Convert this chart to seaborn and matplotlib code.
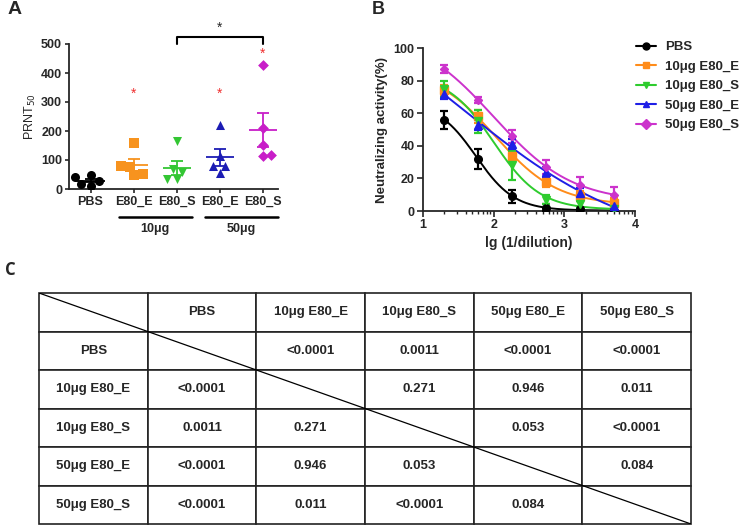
import matplotlib
matplotlib.use("Agg")
import matplotlib.pyplot as plt
import matplotlib.ticker as mticker
from matplotlib.lines import Line2D
import numpy as np
import pandas as pd
import seaborn as sns

sns.set_style("ticks")
plt.rcParams["font.family"] = ["Liberation Sans", "DejaVu Sans"]

# ---- panel A: PRNT50 per mouse ----
groups = ["PBS", "10μg E80_E", "10μg E80_S", "50μg E80_E", "50μg E80_S"]
tick_names = ["PBS", "E80_E", "E80_S", "E80_E", "E80_S"]
prnt_pbs = [12, 18, 28, 40, 48]
prnt_10e = [160, 79, 77, 48, 51]
prnt_10s = [165, 68, 60, 35, 35]
prnt_50e = [220, 115, 80, 78, 55]
prnt_50s = [428, 210, 153, 115, 118]
star_groups = ["10μg E80_E", "50μg E80_E", "50μg E80_S"]
star_values = [330, 330, 465]

colors_a = ["black", "#F7931E", "#33C633", "#1C1CB4", "#C81EC8"]
markers_a = ["o", "s", "v", "^", "D"]

# ---- panel B: neutralization curves ----
lg_dilution = [1.30, 1.78, 2.26, 2.74, 3.22, 3.70]
neut_pbs = [56, 32, 9, 2, 1, 0]
neut_10e = [74, 58, 34, 18, 9, 5]
neut_10s = [75, 55, 28, 7, 4, 1]
neut_50e = [72, 53, 41, 24, 11, 3]
neut_50s = [87, 68, 46, 27, 16, 10]
sem_pbs = [5.5, 6, 4, 2, 1, 0.5]
sem_10e = [3, 4, 3, 3, 3, 3]
sem_10s = [5, 7, 9, 3, 2, 1]
sem_50e = [3, 3, 3, 3, 3, 2]
sem_50s = [2.5, 2, 4, 4, 5, 5]
colors_b = ["black", "#FF8C1A", "#2ECC2E", "#1F1FE6", "#CC33CC"]

# ---- panel C: p-values ----
pvals = [
    ["", "<0.0001", "0.0011", "<0.0001", "<0.0001"],
    ["<0.0001", "", "0.271", "0.946", "0.011"],
    ["0.0011", "0.271", "", "0.053", "<0.0001"],
    ["<0.0001", "0.946", "0.053", "", "0.084"],
    ["<0.0001", "0.011", "<0.0001", "0.084", ""],
]

fig = plt.figure(figsize=(7.4, 5.25), dpi=100)

# ================= A =================
axA = fig.add_axes([69 / 740, 1 - 189 / 525, 209 / 740, 145 / 525])
prnt = [prnt_pbs, prnt_10e, prnt_10s, prnt_50e, prnt_50s]
dfA = pd.DataFrame({
    "group": np.repeat(groups, [len(v) for v in prnt]),
    "prnt": np.concatenate(prnt),
})
for g, c, m in zip(groups, colors_a, markers_a):
    sns.swarmplot(data=dfA[dfA.group == g], x="group", y="prnt", order=groups,
                  color=c, marker=m, size=6.5 if m != "D" else 5.5, ax=axA,
                  linewidth=0)
stats = dfA.groupby("group", sort=False)["prnt"].agg(["mean", "sem"])
for i, g in enumerate(groups):
    mu, se = stats.loc[g, "mean"], stats.loc[g, "sem"]
    axA.hlines(mu, i - 0.33, i + 0.33, color=colors_a[i], lw=1.3, zorder=5)
    axA.errorbar(i, mu, yerr=se, color=colors_a[i], capsize=4, capthick=1.3,
                 elinewidth=1.3, zorder=5)
for g, v in zip(star_groups, star_values):
    axA.text(groups.index(g), v, "*", color="#F03030", ha="center", va="center",
             fontsize=10)
axA.set_xlim(-0.5, 4.35)
axA.set_ylim(0, 500)
axA.set_yticks([0, 100, 200, 300, 400, 500])
axA.set_xticks(range(5))
axA.set_xticklabels(tick_names, fontweight="bold", fontsize=9)
for t in axA.get_yticklabels():
    t.set_fontweight("bold")
    t.set_fontsize(9)
axA.set_xlabel("")
axA.set_ylabel("PRNT$_{50}$", fontsize=9, labelpad=2)
axA.tick_params(length=3, width=1.2, pad=2)
sns.despine(ax=axA)
for s in ["left", "bottom"]:
    axA.spines[s].set_linewidth(1.3)
# significance bracket
axA.plot([2, 2, 4, 4], [500, 524, 524, 500], color="black", lw=1.5, clip_on=False)
axA.text(3, 557, "*", ha="center", va="center", fontsize=10)
# dose group underlines
for (a, b), lab in zip([(1, 2), (3, 4)], ["10μg", "50μg"]):
    axA.plot([a - 0.35, b + 0.35], [-0.19, -0.19], color="black", lw=1.8,
             clip_on=False, transform=axA.get_xaxis_transform())
    axA.text((a + b) / 2, -0.275, lab, ha="center", va="center", fontsize=9,
             fontweight="bold", transform=axA.get_xaxis_transform())

# ================= B =================
axB = fig.add_axes([423 / 740, 1 - 211 / 525, 212 / 740, 163 / 525])
neut = [neut_pbs, neut_10e, neut_10s, neut_50e, neut_50s]
sems = [sem_pbs, sem_10e, sem_10s, sem_50e, sem_50s]
x = np.array(lg_dilution)
xs = np.linspace(x.min(), x.max(), 200)


def fit_4pl(xd, yd):
    best = None
    for ec in np.linspace(0.5, 3.5, 121):
        for h in np.linspace(0.3, 3.0, 91):
            s = 1 / (1 + 10 ** ((xd - ec) * h))
            A = np.column_stack([np.ones_like(s), s])
            coef, *_ = np.linalg.lstsq(A, yd, rcond=None)
            r = np.sum((A @ coef - yd) ** 2)
            if best is None or r < best[0]:
                best = (r, ec, h, coef)
    _, ec, h, coef = best
    return lambda xx: coef[0] + coef[1] / (1 + 10 ** ((xx - ec) * h))


curve_rows = []
for g, y in zip(groups, neut):
    f = fit_4pl(x, np.array(y, float))
    curve_rows.append(pd.DataFrame({"x": xs, "y": f(xs), "group": g}))
dfB = pd.concat(curve_rows)
pal = dict(zip(groups, colors_b))
sns.lineplot(data=dfB, x="x", y="y", hue="group", palette=pal, ax=axB,
             legend=False, lw=1.4)
for g, y, e, c, m in zip(groups, neut, sems, colors_b, markers_a):
    axB.errorbar(x, y, yerr=e, fmt=m, color=c, ms=5.5 if m != "D" else 4.5,
                 capsize=3, elinewidth=1.6, capthick=1.6, zorder=4)
axB.set_xlim(1, 4)
axB.set_ylim(0, 100)
axB.set_xticks([1, 2, 3, 4])
axB.set_yticks([0, 20, 40, 60, 80, 100])
minor = [np.log10(k * 10 ** d) for d in range(1, 4) for k in range(2, 10)]
axB.xaxis.set_minor_locator(mticker.FixedLocator(minor))
axB.tick_params(which="major", length=4, width=1.2, pad=2, labelsize=9)
axB.tick_params(which="minor", length=2.5, width=1.0)
for t in axB.get_xticklabels() + axB.get_yticklabels():
    t.set_fontweight("bold")
axB.set_xlabel("lg (1/dilution)", fontsize=10, fontweight="bold", labelpad=3)
axB.set_ylabel("Neutralizing activity(%)", fontsize=9.5, fontweight="bold",
               labelpad=4)
sns.despine(ax=axB)
for s in ["left", "bottom"]:
    axB.spines[s].set_linewidth(1.3)
handles = [Line2D([], [], color=c, marker=m, ms=5, lw=1.5)
           for c, m in zip(colors_b, markers_a)]
fig.legend(handles, groups, loc="upper left",
           bbox_to_anchor=(636 / 740, 1 - 41 / 525),
           frameon=False, handlelength=1.5, handletextpad=0.7, borderpad=0,
           borderaxespad=0, labelspacing=0.55,
           prop={"weight": "bold", "size": 9.5})

# ================= C =================
axC = fig.add_axes([39 / 740, 1 / 525, 652 / 740, 231 / 525])
axC.axis("off")
cells = [[""] + groups] + [[g] + row for g, row in zip(groups, pvals)]
tab = axC.table(cellText=cells, cellLoc="center", bbox=[0, 0, 1, 1])
tab.auto_set_font_size(False)
for (r, c), cell in tab.get_celld().items():
    cell.set_linewidth(1.2)
    cell.set_edgecolor("#222222")
    cell.get_text().set_fontsize(9.5)
    cell.get_text().set_fontweight("bold")
    cell.get_text().set_fontfamily(["Liberation Sans Narrow", "Liberation Sans"])
axC.plot([0, 1], [1, 0], color="black", lw=0.9, transform=axC.transAxes)

# panel letters
fig.text(8 / 740, 1 - 10 / 525, "A", fontsize=14, fontweight="bold",
         ha="left", va="center")
fig.text(372 / 740, 1 - 9 / 525, "B", fontsize=13, fontweight="bold",
         ha="left", va="center")
fig.text(5 / 740, 1 - 270 / 525, "C", fontsize=12, fontweight="bold",
         ha="left", va="center", family=["Open Sans", "DejaVu Sans"])

fig.savefig("out.png", dpi=100)
